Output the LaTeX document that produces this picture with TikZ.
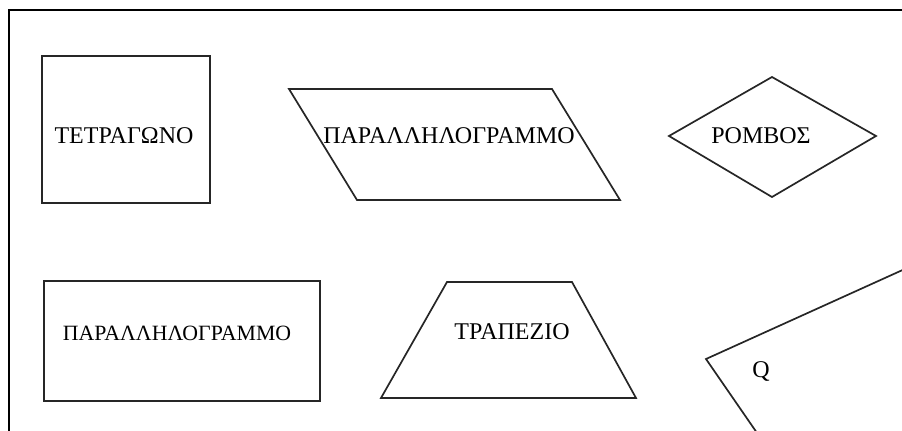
\documentclass[tikz,border=0pt]{standalone}
\usepackage{fontspec}
\setmainfont{Liberation Serif}
\usepackage{tikz}
\usetikzlibrary{positioning}

\begin{document}
\begin{tikzpicture}[x=0.5pt, y=-0.5pt, line width=0.85pt, draw=black!85,
    lbl/.style={font=\fontsize{12}{14}\selectfont, text=black, inner sep=0pt}]
    \useasboundingbox (0,0) rectangle (902,430);
    \clip (0,0) rectangle (902,430);
    % frame
    \draw[line width=1pt, black] (9,440) -- (9,10) -- (912,10);

    % top row
    \node[draw, minimum width=84pt, minimum height=73.5pt] (sq) at (126,129.5) {};
    \node[lbl] (sqt) at (124,136) {ΤΕΤΡΑΓΩΝΟ};

    \coordinate (p1) at (289,89);
    \coordinate (p2) at (552,89);
    \coordinate (p3) at (620,200);
    \coordinate (p4) at (357,200);
    \draw (p1) -- (p2) -- (p3) -- (p4) -- cycle;
    \node[lbl] (part) at (449,136) {ΠΑΡΑΛΛΗΛΟΓΡΑΜΜΟ};

    \coordinate (r1) at (669,136);
    \coordinate (r2) at (772,77);
    \coordinate (r3) at (876,136);
    \coordinate (r4) at (772,197);
    \draw (r1) -- (r2) -- (r3) -- (r4) -- cycle;
    \node[lbl] (romb) at (761,136) {ΡΟΜΒΟΣ};

    % bottom row
    \node[draw, minimum width=138pt, minimum height=60pt] (rect) at (182,341) {};
    \node[lbl, font=\fontsize{10.9}{12}\selectfont] (rectt) at (177,333) {ΠΑΡΑΛΛΗΛΟΓΡΑΜΜΟ};

    \coordinate (t1) at (447,282);
    \coordinate (t2) at (572,282);
    \coordinate (t3) at (636,398);
    \coordinate (t4) at (381,398);
    \draw (t1) -- (t2) -- (t3) -- (t4) -- cycle;
    \node[lbl] (trap) at (512,332) {ΤΡΑΠΕΖΙΟ};

    \coordinate (q1) at (960,244);
    \coordinate (q2) at (706,359);
    \coordinate (q3) at (775,459);
    \draw (q1) -- (q2) -- (q3);
    \node[lbl] (qt) at (761,371) {Q};
\end{tikzpicture}
\end{document}
